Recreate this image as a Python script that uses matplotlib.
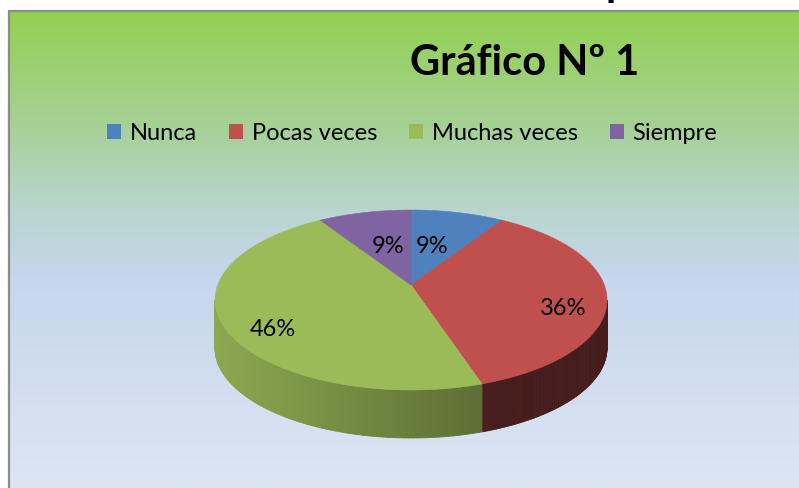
import numpy as np
import matplotlib
matplotlib.use("Agg")
import matplotlib.pyplot as plt
from matplotlib.patches import Polygon, Patch
from matplotlib.colors import LinearSegmentedColormap, to_rgb

# datos del grafico
categorias = ["Nunca", "Pocas veces", "Muchas veces", "Siempre"]
porcentajes = [9, 36, 46, 9]
etiquetas = ["9%", "36%", "46%", "9%"]
colores = ["#4F81BD", "#C0504D", "#9BBB59", "#8064A2"]
titulo = "Gráfico Nº 1"

plt.rcParams['font.family'] = ['Lato', 'DejaVu Sans']

fig = plt.figure(figsize=(7.99, 4.88), dpi=100)
ax = fig.add_axes([0, 0, 1, 1])

# fondo con degradado verde -> azul claro
fondo = LinearSegmentedColormap.from_list(
    "fondo", [(0, "#92D050"), (0.24, "#A6D196"), (0.42, "#B9D5CF"),
              (0.56, "#C6D6EC"), (1, "#DDE5F3")])
ax.imshow(np.linspace(0, 1, 256).reshape(-1, 1), cmap=fondo, aspect="auto",
          extent=(9, 800, 488, 11), zorder=0)
ax.plot([9, 9, 800], [490, 11, 11], color="#8C8C8C", lw=1.6, zorder=1,
        solid_joinstyle="miter")

# geometria de la torta 3d (elipse + perspectiva)
cx, cy, rx, ry = 411, 300, 196, 90
c = 0.167
prof = 48


def proyectar(phi, r=1.0):
    x, y = r * np.cos(phi), r * np.sin(phi)
    d = 1 + c * y
    return cx + rx * x * np.sqrt(1 - c * c) / d, cy - ry * (y + c) / d


def tono_oscuro(color, f):
    return tuple(np.array(to_rgb(color)) * f)


frente = (np.degrees(-np.pi) + np.degrees(np.arcsin(c)), -np.degrees(np.arcsin(c)))

inicio = 90.0
angulos = []
for p in porcentajes:
    fin = inicio - 360.0 * p / 100
    angulos.append((inicio, fin))
    inicio = fin

# lados
for (a0, a1), col in zip(angulos, colores):
    for k in (-360, 0, 360):
        lo = max(a1 + k, frente[0])
        hi = min(a0 + k, frente[1])
        if hi <= lo:
            continue
        phis = np.radians(np.linspace(lo, hi, 80))
        xs, ys = proyectar(phis)
        for i in range(len(phis) - 1):
            xm = 0.5 * (xs[i] + xs[i + 1])
            t = (xm - (cx - rx)) / (2 * rx)
            if col == "#9BBB59":
                f = 0.90 - 0.45 * t
            else:
                f = 0.40 - 0.04 * t
            quad = [(xs[i], ys[i]), (xs[i + 1], ys[i + 1]),
                    (xs[i + 1], ys[i + 1] + prof), (xs[i], ys[i] + prof)]
            ax.add_patch(Polygon(quad, closed=True, facecolor=tono_oscuro(col, f),
                                 edgecolor=tono_oscuro(col, f), lw=0.6, zorder=2))

# cara superior
ax0, ay0 = proyectar(0.0, 0.0)
for (a0, a1), col in zip(angulos, colores):
    phis = np.radians(np.linspace(a0, a1, 120))
    xs, ys = proyectar(phis)
    pts = [(ax0, ay0)] + list(zip(xs, ys))
    ax.add_patch(Polygon(pts, closed=True, facecolor=col, edgecolor=col,
                         lw=0.4, zorder=3))

# etiquetas de porcentaje
dist = [0.62, 0.78, 0.78, 0.62]
ajuste_x = [-13, 0, 0, 11]
for (a0, a1), txt, r, dx in zip(angulos, etiquetas, dist, ajuste_x):
    m = np.radians(0.5 * (a0 + a1))
    ax.text(cx + rx * r * np.cos(m) + dx, cy - ry * r * np.sin(m), txt,
            ha="center", va="center", fontsize=17, color="black", zorder=4)

# titulo
ax.text(525, 75, titulo, ha="center", va="baseline", fontsize=30,
        fontweight="bold", color="black", zorder=4)
ax.text(605, -4, "p", ha="left", va="baseline", fontsize=30,
        fontweight="bold", color="black", zorder=4)

# leyenda
manejadores = [Patch(facecolor=col, edgecolor="none") for col in colores]
ax.legend(manejadores, categorias, ncol=4, loc="center",
          bbox_to_anchor=(412 / 799, 1 - 133 / 488), frameon=False,
          fontsize=17, handlelength=0.62, handleheight=0.62,
          handletextpad=0.35, columnspacing=1.35)

ax.set_xlim(0, 799)
ax.set_ylim(488, 0)
ax.axis("off")

fig.savefig("out.png", dpi=100, facecolor="white")
